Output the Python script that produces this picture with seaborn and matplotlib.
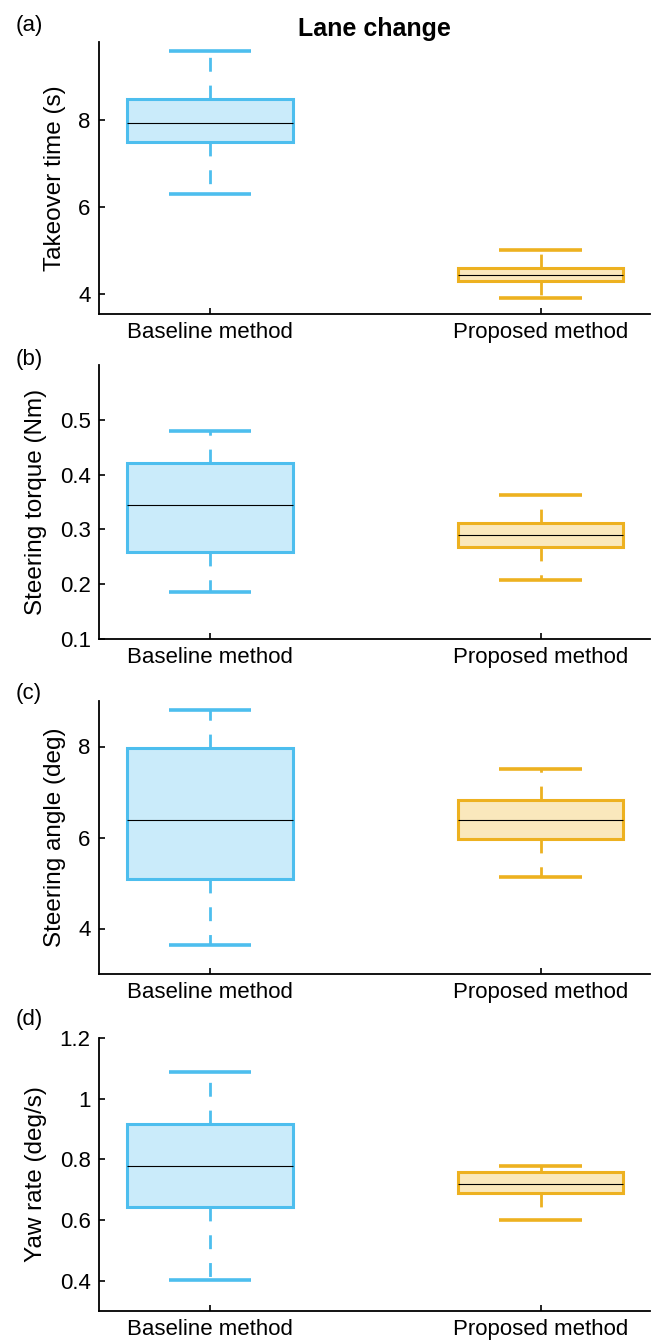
import numpy as np
import pandas as pd
import seaborn as sns
import matplotlib.pyplot as plt
from matplotlib.ticker import FormatStrFormatter

sns.set_theme(style="ticks")
plt.rcParams["font.family"] = ["Liberation Sans", "DejaVu Sans"]
plt.rcParams["text.color"] = "black"
plt.rcParams["axes.labelcolor"] = "black"

# five-number summaries: [min, q1, median, q3, max]
methods = ["Baseline method", "Proposed method"]
takeover_baseline = [6.31, 7.50, 7.95, 8.50, 9.59]
takeover_proposed = [3.92, 4.31, 4.45, 4.61, 5.02]
torque_baseline = [0.186, 0.258, 0.344, 0.421, 0.480]
torque_proposed = [0.208, 0.267, 0.289, 0.311, 0.362]
angle_baseline = [3.63, 5.08, 6.39, 7.97, 8.80]
angle_proposed = [5.14, 5.97, 6.39, 6.83, 7.50]
yaw_baseline = [0.403, 0.643, 0.778, 0.917, 1.089]
yaw_proposed = [0.601, 0.689, 0.719, 0.757, 0.778]

ylabels = ["Takeover time (s)", "Steering torque (Nm)",
           "Steering angle (deg)", "Yaw rate (deg/s)"]
panel_tags = ["(a)", "(b)", "(c)", "(d)"]

edge_colors = ["#4DBEEE", "#EDB120"]
face_colors = ["#CAEBFA", "#FAE8BC"]

panels = [
    (takeover_baseline, takeover_proposed, (3.55, 9.8), [4, 6, 8]),
    (torque_baseline, torque_proposed, (0.1, 0.6), [0.1, 0.2, 0.3, 0.4, 0.5]),
    (angle_baseline, angle_proposed, (3, 9), [4, 6, 8]),
    (yaw_baseline, yaw_proposed, (0.3, 1.2), [0.4, 0.6, 0.8, 1.0, 1.2]),
]

W, H = 652, 1344
fig = plt.figure(figsize=(W / 100, H / 100), dpi=100)

# axes boxes in pixels (top, bottom)
boxes = [(42, 314), (365, 639), (701, 974), (1038, 1311)]
tag_y = [26, 359, 693, 1019]
left, right = 99, 650

for i, (base, prop, ylim, yticks) in enumerate(panels):
    top, bot = boxes[i]
    ax = fig.add_axes([left / W, 1 - bot / H, (right - left) / W, (bot - top) / H])

    df = pd.DataFrame({
        "method": [methods[0]] * len(base) + [methods[1]] * len(prop),
        "value": base + prop,
    })

    for m, face, edge in zip(methods, face_colors, edge_colors):
        sub = df[df["method"] == m]
        sns.boxplot(data=sub, x="method", y="value", order=methods,
                    color=face, linecolor=edge, saturation=1,
                    width=0.5, whis=(0, 100), linewidth=2.2, fliersize=0,
                    medianprops=dict(color="black", linewidth=0.8),
                    whiskerprops=dict(linestyle=(0, (5, 5)), linewidth=2.0),
                    capprops=dict(linewidth=2.6, solid_capstyle="butt"),
                    ax=ax)

    ax.set_xlim(-0.336, 1.331)
    ax.set_ylim(*ylim)
    ax.set_yticks(yticks)
    ax.yaxis.set_major_formatter(FormatStrFormatter("%g"))
    ax.set_xlabel("")
    ax.set_ylabel(ylabels[i], fontsize=17.5, labelpad=9)
    sns.despine(ax=ax)
    for s in ["left", "bottom"]:
        ax.spines[s].set_linewidth(1.3)
        ax.spines[s].set_color("black")
    ax.tick_params(direction="in", length=4.5, width=1.2, labelsize=16,
                   pad=6, colors="black")

    if i == 0:
        ax.set_title("Lane change", fontsize=18, fontweight="bold", pad=4)

    fig.text(16 / W, 1 - tag_y[i] / H, panel_tags[i], fontsize=16,
             va="center", ha="left")

fig.savefig("out.png", dpi=100)
